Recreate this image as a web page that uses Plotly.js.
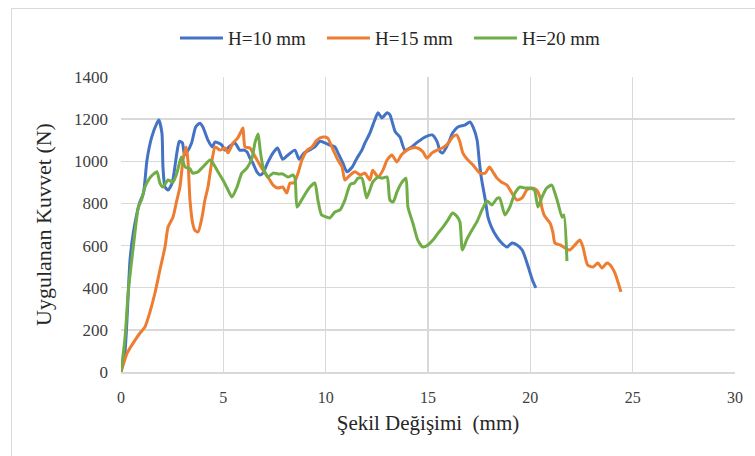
<!DOCTYPE html>
<html>
<head>
<meta charset="utf-8">
<script src="https://cdn.plot.ly/plotly-3.0.1.min.js"></script>
<style>
html,body{margin:0;padding:0;background:#fff;}
#frame{position:absolute;left:11px;top:8px;width:800px;height:500px;border:1px solid #d9d9d9;box-sizing:border-box;}
#chart{position:absolute;left:0;top:0;width:755px;height:456px;}
</style>
</head>
<body>
<div id="frame"></div>
<div id="chart"></div>
<script>
const seriesNames = ["H=10 mm", "H=15 mm", "H=20 mm"];
const seriesColors = ["#4472C4", "#ED7D31", "#70AD47"];

const x10 = [0,0.2,0.44,0.6,0.9,1.1,1.27,1.5,1.75,1.85,2.0,2.05,2.15,2.3,2.5,2.73,2.85,3.0,3.1,3.2,3.45,3.65,3.85,4.0,4.25,4.45,4.6,4.75,4.93,5.08,5.3,5.57,5.8,6.0,6.15,6.3,6.45,6.64,6.8,6.94,7.15,7.43,7.65,7.9,8.16,8.5,8.7,8.95,9.2,9.47,9.72,9.97,10.2,10.45,10.6,10.85,11.04,11.3,11.53,11.77,11.92,12.16,12.4,12.56,12.75,13.0,13.14,13.4,13.63,13.87,14.2,14.5,14.85,15.2,15.45,15.6,15.73,16.0,16.2,16.46,16.8,17.05,17.2,17.4,17.5,17.6,17.8,17.93,18.1,18.37,18.6,18.86,19.1,19.35,19.6,19.74,19.9,20.1,20.27];
const y10 = [0,104,531,660,800,850,1006,1115,1180,1196,1134,973,878,864,897,1040,1095,1087,1030,1040,1087,1163,1180,1163,1100,1068,1092,1087,1077,1053,1070,1087,1053,1053,1045,1015,990,950,935,944,990,1040,1063,1010,1030,1053,1010,1040,1053,1068,1095,1087,1077,1068,1040,990,950,973,1015,1053,1087,1134,1196,1230,1206,1230,1220,1140,1115,1053,1068,1092,1115,1125,1092,1045,1040,1087,1134,1163,1172,1187,1163,1100,1006,925,816,735,688,640,612,593,612,603,579,546,498,437,399];

const x15 = [0,0.3,0.6,0.93,1.17,1.4,1.66,1.9,2.15,2.3,2.54,2.73,2.88,3.03,3.18,3.27,3.37,3.5,3.6,3.76,3.96,4.1,4.25,4.45,4.6,4.84,5.08,5.23,5.47,5.7,5.9,5.96,6.06,6.3,6.45,6.7,6.94,7.18,7.43,7.67,7.9,8.1,8.26,8.45,8.65,8.84,9.1,9.33,9.57,9.87,10.1,10.3,10.6,10.8,10.94,11.2,11.43,11.7,11.92,12.16,12.3,12.56,12.8,13.0,13.24,13.48,13.7,13.97,14.2,14.5,14.75,14.95,15.2,15.44,15.7,16.0,16.2,16.4,16.56,16.7,16.95,17.2,17.4,17.54,17.8,18.0,18.17,18.37,18.6,18.86,19.1,19.35,19.6,19.83,20.1,20.3,20.47,20.57,20.7,20.96,21.1,21.2,21.45,21.7,21.93,22.18,22.42,22.57,22.8,23.06,23.3,23.5,23.74,23.9,24.13,24.28,24.43];
const y15 = [0,90,138,185,214,280,375,484,593,688,735,816,878,1006,1068,1006,816,707,674,664,735,816,878,1006,1068,1053,1063,1040,1087,1110,1148,1158,1068,1063,1040,997,958,925,887,873,878,849,897,897,944,1006,1053,1068,1100,1115,1110,1068,1006,973,911,935,950,935,944,911,958,925,958,1006,1030,997,1030,1053,1063,1063,1045,1015,1040,1053,1063,1087,1115,1125,1092,1040,1006,982,958,944,944,973,950,920,901,887,849,816,826,864,873,864,830,778,740,707,664,612,603,588,579,603,626,593,508,498,517,494,517,508,470,427,380];

const x20 = [0,0.2,0.35,0.6,0.85,1.0,1.17,1.4,1.6,1.76,1.9,2.05,2.3,2.54,2.73,2.95,3.13,3.37,3.5,3.76,4.0,4.35,4.5,4.74,4.98,5.23,5.42,5.67,5.9,6.15,6.4,6.55,6.7,6.8,6.94,7.18,7.43,7.67,7.9,8.16,8.4,8.5,8.6,8.74,9.0,9.23,9.47,9.62,9.8,10.06,10.2,10.45,10.7,10.94,11.2,11.4,11.58,11.77,12.0,12.16,12.3,12.56,12.75,13.0,13.14,13.3,13.48,13.73,13.92,14.02,14.26,14.5,14.75,15.0,15.24,15.49,15.73,15.97,16.2,16.4,16.56,16.68,16.9,17.15,17.4,17.64,17.88,18.12,18.37,18.5,18.76,19.0,19.25,19.5,19.74,19.98,20.2,20.37,20.57,20.8,21.05,21.2,21.35,21.55,21.64,21.79];
const y20 = [0,166,375,593,783,816,878,920,940,950,897,878,911,901,944,1020,973,965,944,950,973,1006,990,950,911,864,830,878,944,968,1015,1090,1130,1053,973,925,944,940,940,925,935,920,783,802,845,878,897,816,745,735,731,759,769,816,890,897,920,920,826,864,901,925,920,925,816,807,854,901,920,783,707,626,593,603,626,659,688,721,755,740,712,579,630,674,715,769,812,793,823,826,745,783,849,878,873,873,864,783,830,873,887,849,802,735,745,526];

const xTicks = [0,5,10,15,20,25,30];
const yTicks = [0,200,400,600,800,1000,1200,1400];

const xs = [x10, x15, x20];
const ys = [y10, y15, y20];
const traces = seriesNames.map((n, i) => ({
  x: xs[i], y: ys[i], name: n, type: 'scatter', mode: 'lines',
  line: {color: seriesColors[i], width: 3, shape: 'spline', smoothing: 0.6}
}));

const font = "'Liberation Serif', 'Times New Roman', serif";
const layout = {
  width: 755, height: 456,
  margin: {l: 121, r: 20, t: 77, b: 84},
  paper_bgcolor: 'rgba(0,0,0,0)', plot_bgcolor: 'rgba(0,0,0,0)',
  font: {family: font, size: 16, color: '#262626'},
  showlegend: true,
  legend: {orientation: 'h', x: 0.447, xanchor: 'center', y: 1.132, yanchor: 'middle',
           font: {family: font, size: 19, color: '#262626'},
           itemwidth: 43, entrywidth: 89, entrywidthmode: 'pixels'},
  xaxis: {
    range: [0, 30], tickvals: xTicks, ticktext: xTicks.map(String),
    showgrid: true, gridcolor: '#d9d9d9', gridwidth: 1.5,
    zeroline: false, showline: true, linecolor: '#d9d9d9', linewidth: 1.5,
    ticks: '', ticklabelstandoff: 10, tickfont: {family: font, size: 16, color: '#404040'},
    title: {text: 'Şekil Değişimi  (mm)', font: {family: font, size: 21, color: '#262626'}, standoff: 10}
  },
  yaxis: {
    range: [0, 1400], tickvals: yTicks, ticktext: yTicks.map(String),
    showgrid: true, gridcolor: '#d9d9d9', gridwidth: 1.5,
    zeroline: false, showline: false,
    ticks: '', ticklabelstandoff: 12, tickfont: {family: font, size: 17, color: '#404040'},
    title: {text: 'Uygulanan Kuvvet (N)', font: {family: font, size: 22, color: '#262626'}, standoff: 16}
  }
};
Plotly.newPlot('chart', traces, layout, {displayModeBar: false, staticPlot: true});
</script>
</body>
</html>
